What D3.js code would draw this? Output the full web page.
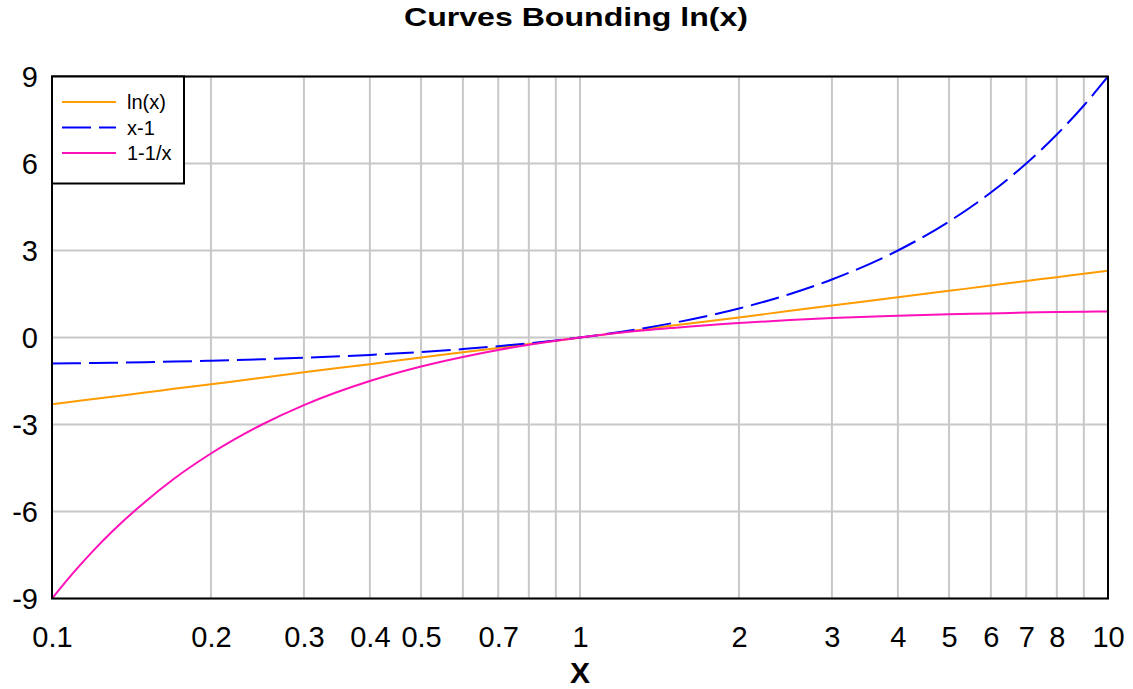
<!DOCTYPE html>
<html><head><meta charset="utf-8">
<script src="https://cdn.jsdelivr.net/npm/d3@7"></script>
<style>body{margin:0;background:#fff}svg{display:block}text{font-family:"Liberation Sans",Arial,sans-serif}</style>
</head><body>
<svg id="c" width="1133" height="689"></svg>
<script>
const xs      = [0.1,0.11,0.12,0.13,0.15,0.17,0.2,0.25,0.3,0.4,0.5,0.6,0.7,0.8,0.9,1,1.2,1.5,2,2.5,3,4,5,6,7,8,9,10];
const lnVals  = [-2.30,-2.21,-2.12,-2.04,-1.90,-1.77,-1.61,-1.39,-1.20,-0.92,-0.69,-0.51,-0.36,-0.22,-0.11,0,0.18,0.41,0.69,0.92,1.10,1.39,1.61,1.79,1.95,2.08,2.20,2.30];
const xm1Vals = [-0.90,-0.89,-0.88,-0.87,-0.85,-0.83,-0.80,-0.75,-0.70,-0.60,-0.50,-0.40,-0.30,-0.20,-0.10,0,0.20,0.50,1,1.5,2,3,4,5,6,7,8,9];
const invVals = [-9,-8.09,-7.33,-6.69,-5.67,-4.88,-4,-3,-2.33,-1.5,-1,-0.67,-0.43,-0.25,-0.11,0,0.17,0.33,0.5,0.6,0.67,0.75,0.8,0.83,0.86,0.88,0.89,0.9];
const seriesNames = ["ln(x)","x-1","1-1/x"];
const xGrid = [0.2,0.3,0.4,0.5,0.6,0.7,0.8,0.9,1,2,3,4,5,6,7,8,9];
const xTickLabels = [0.1,0.2,0.3,0.4,0.5,0.7,1,2,3,4,5,6,7,8,10];
const yTicks = [-9,-6,-3,0,3,6,9];

const svg = d3.select("#c");
const L=52,R=1108,T=76.5,B=598.5;
const x = d3.scaleLog().domain([0.1,10]).range([L,R]);
const y = d3.scaleLinear().domain([-9,9]).range([B,T]);

svg.append("text").attr("x",576).attr("y",26).attr("text-anchor","middle")
  .attr("font-size",25).attr("font-weight","bold")
  .attr("textLength",344).attr("lengthAdjust","spacingAndGlyphs").text("Curves Bounding ln(x)");

const g = svg.append("g");
g.selectAll(".vg").data(xGrid).join("line").attr("x1",d=>x(d)).attr("x2",d=>x(d))
  .attr("y1",T).attr("y2",B).attr("stroke","#c8c8c8").attr("stroke-width",2);
g.selectAll(".hg").data(yTicks).join("line").attr("x1",L).attr("x2",R)
  .attr("y1",d=>y(d)).attr("y2",d=>y(d)).attr("stroke","#c8c8c8").attr("stroke-width",2);

const xAxis = d3.axisBottom(x).tickValues(xTickLabels).tickSize(0).tickFormat(d=>String(d));
const ax = svg.append("g").attr("transform",`translate(0,${B})`).call(xAxis);
ax.select(".domain").remove();
ax.selectAll("text").attr("font-size",29).attr("fill","#000").attr("dy",0).attr("y",48.5).attr("font-family","Liberation Sans, Arial, sans-serif");

const yAxis = d3.axisLeft(y).tickValues(yTicks).tickSize(0).tickFormat(d=>String(d));
const ay = svg.append("g").attr("transform",`translate(${L},0)`).call(yAxis);
ay.select(".domain").remove();
ay.selectAll("text").attr("font-size",29).attr("fill","#000").attr("x",-14).attr("dy","0.36em").attr("font-family","Liberation Sans, Arial, sans-serif");

svg.append("text").attr("x",580).attr("y",683).attr("text-anchor","middle")
  .attr("font-size",30).attr("font-weight","bold").text("X");

const series = [
  {name:seriesNames[0], vals:lnVals, color:"#ff9c00", dash:null},
  {name:seriesNames[1], vals:xm1Vals, color:"#0000ff", dash:"29,8"},
  {name:seriesNames[2], vals:invVals, color:"#ff10b8", dash:null}
];
const line = d3.line().x(d=>x(d[0])).y(d=>y(d[1])).curve(d3.curveMonotoneX);
svg.append("clipPath").attr("id","cp").append("rect").attr("x",L).attr("y",T-2).attr("width",R-L).attr("height",B-T+4);
series.forEach(s=>{
  svg.append("path").datum(xs.map((v,i)=>[v,s.vals[i]])).attr("d",line)
    .attr("fill","none").attr("stroke",s.color).attr("stroke-width",2)
    .attr("stroke-dasharray",s.dash).attr("clip-path","url(#cp)");
});

svg.append("rect").attr("x",L).attr("y",T).attr("width",R-L).attr("height",B-T)
  .attr("fill","none").attr("stroke","#000").attr("stroke-width",2);

const lg = svg.append("g");
lg.append("rect").attr("x",L).attr("y",T).attr("width",132).attr("height",107)
  .attr("fill","#fff").attr("stroke","#000").attr("stroke-width",2);
series.forEach((s,i)=>{
  const yy = 102 + i*25.5;
  lg.append("line").attr("x1",62).attr("x2",116).attr("y1",yy).attr("y2",yy)
    .attr("stroke",s.color).attr("stroke-width",2).attr("stroke-dasharray",s.dash);
  lg.append("text").attr("x",127).attr("y",yy).attr("dy","0.36em").attr("font-size",20).text(s.name);
});
</script>
</body></html>
